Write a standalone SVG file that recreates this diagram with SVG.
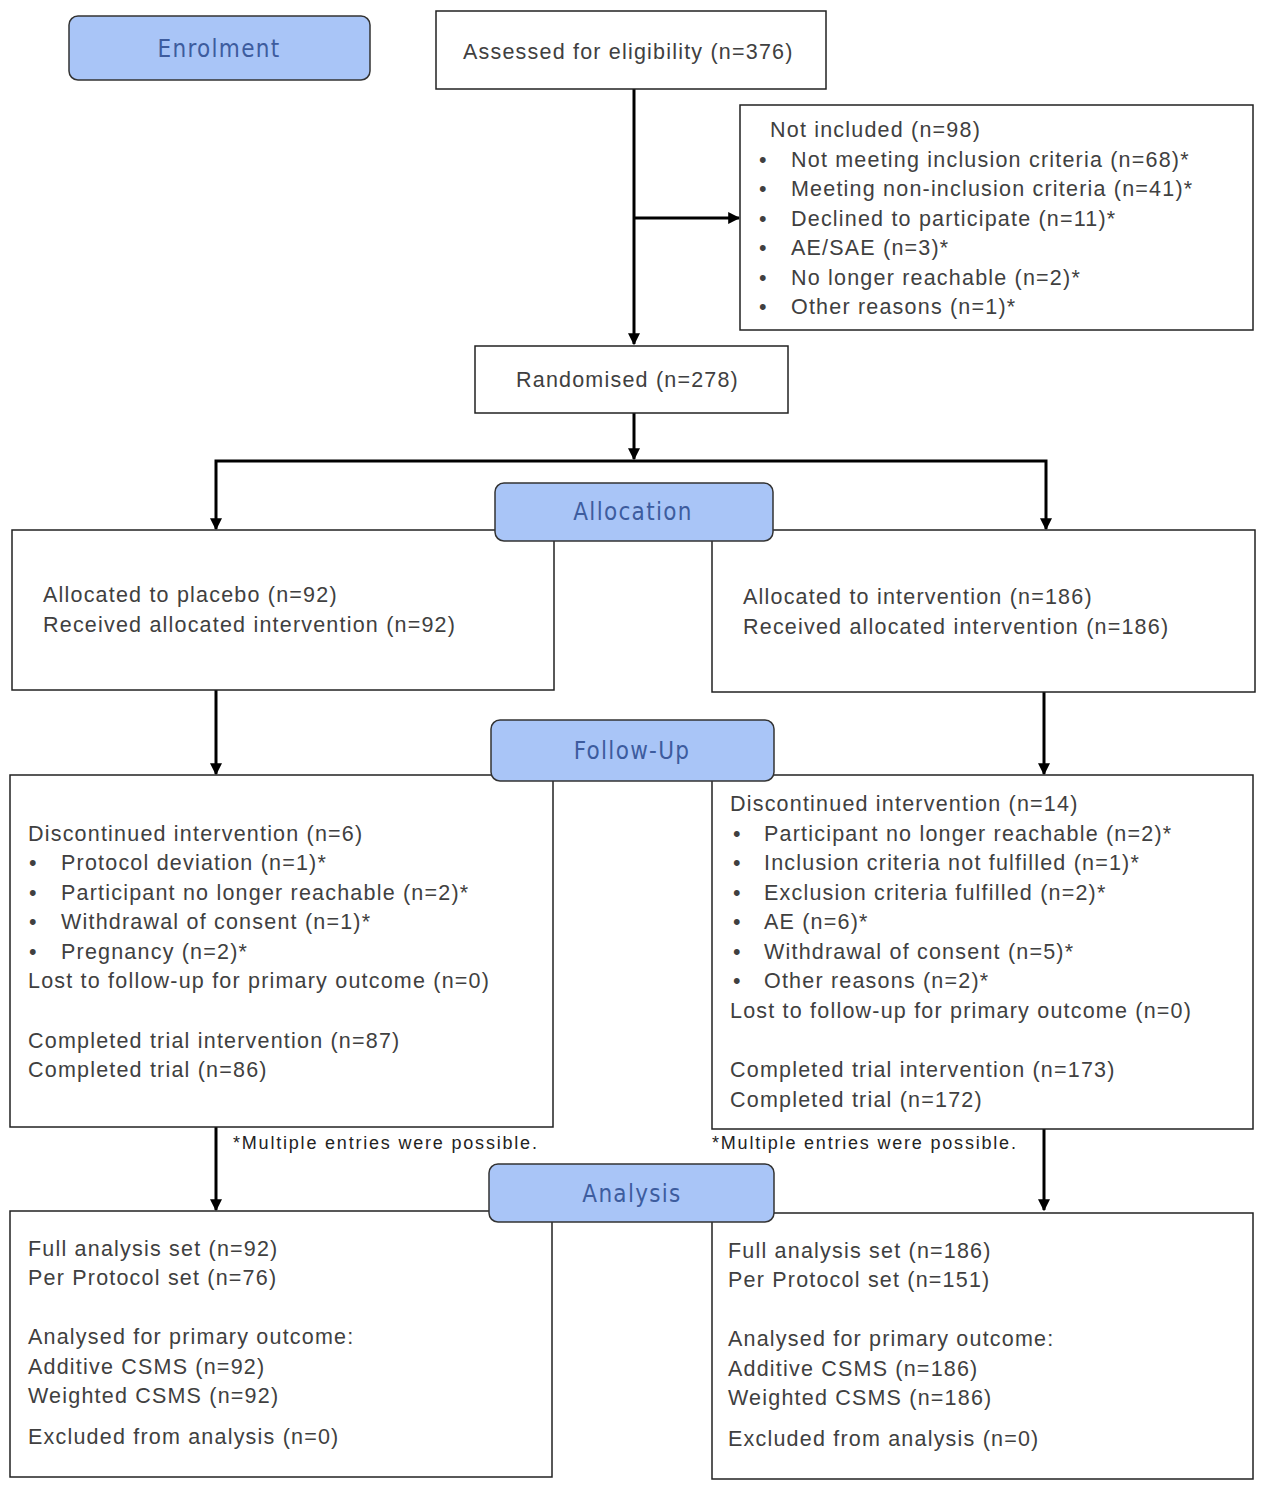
<svg xmlns="http://www.w3.org/2000/svg" width="1265" height="1489" viewBox="0 0 1265 1489">
<defs>
<marker id="ah" viewBox="0 0 10 10" refX="9" refY="5" markerWidth="4" markerHeight="4" orient="auto" markerUnits="strokeWidth">
<path d="M0,0 L10,5 L0,10 z" fill="#000"/>
</marker>
<style>
.box{fill:#fff;stroke:#222;stroke-width:1.5}
.stage{fill:#a9c5f7;stroke:#333;stroke-width:1.5}
.st{font-family:"DejaVu Sans Condensed","DejaVu Sans",sans-serif;font-size:24px;fill:#3d5c9e;text-anchor:middle;letter-spacing:1.3px}
.t{font-family:"Liberation Sans",Arial,sans-serif;font-size:21.5px;fill:#404040;letter-spacing:1.2px}
.fn{font-family:"Liberation Sans",Arial,sans-serif;font-size:18px;fill:#222;letter-spacing:1.8px}
.c{fill:none;stroke:#000;stroke-width:3}
</style>
</defs>
<rect width="1265" height="1489" fill="#fff"/>
<g id="connectors">
<line class="c" x1="634" y1="89" x2="634" y2="344" marker-end="url(#ah)"/>
<line class="c" x1="634" y1="218" x2="739" y2="218" marker-end="url(#ah)"/>
<line class="c" x1="634" y1="413" x2="634" y2="459" marker-end="url(#ah)"/>
<polyline class="c" points="634,461 216,461 216,529" marker-end="url(#ah)"/>
<polyline class="c" points="634,461 1046,461 1046,529" marker-end="url(#ah)"/>
<line class="c" x1="216" y1="690" x2="216" y2="774" marker-end="url(#ah)"/>
<line class="c" x1="1044" y1="692" x2="1044" y2="774" marker-end="url(#ah)"/>
<line class="c" x1="216" y1="1127" x2="216" y2="1210" marker-end="url(#ah)"/>
<line class="c" x1="1044" y1="1129" x2="1044" y2="1210" marker-end="url(#ah)"/>
</g>
<g id="enrolment"><rect class="stage" x="69" y="16" width="301" height="64" rx="9"/><text class="st" x="219" y="57">Enrolment</text></g>
<g id="assessed"><rect class="box" x="436" y="11" width="390" height="78"/><text class="t" x="463" y="59">Assessed for eligibility (n=376)</text></g>
<g id="not-included"><rect class="box" x="740" y="105" width="513" height="225"/>
<text class="t" x="770" y="137">Not included (n=98)</text>
<text class="t" x="759" y="167">•</text><text class="t" x="791" y="167">Not meeting inclusion criteria (n=68)*</text>
<text class="t" x="759" y="196">•</text><text class="t" x="791" y="196">Meeting non-inclusion criteria (n=41)*</text>
<text class="t" x="759" y="226">•</text><text class="t" x="791" y="226">Declined to participate (n=11)*</text>
<text class="t" x="759" y="255">•</text><text class="t" x="791" y="255">AE/SAE (n=3)*</text>
<text class="t" x="759" y="285">•</text><text class="t" x="791" y="285">No longer reachable (n=2)*</text>
<text class="t" x="759" y="314">•</text><text class="t" x="791" y="314">Other reasons (n=1)*</text>
</g>
<g id="randomised"><rect class="box" x="475" y="346" width="313" height="67"/><text class="t" x="516" y="387">Randomised (n=278)</text></g>
<g id="alloc-placebo"><rect class="box" x="12" y="530" width="542" height="160"/>
<text class="t" x="43" y="602">Allocated to placebo (n=92)</text>
<text class="t" x="43" y="632">Received allocated intervention (n=92)</text>
</g>
<g id="alloc-intervention"><rect class="box" x="712" y="530" width="543" height="162"/>
<text class="t" x="743" y="604">Allocated to intervention (n=186)</text>
<text class="t" x="743" y="634">Received allocated intervention (n=186)</text>
</g>
<g id="allocation"><rect class="stage" x="495" y="483" width="278" height="58" rx="9"/><text class="st" x="633" y="520">Allocation</text></g>
<g id="followup-placebo"><rect class="box" x="10" y="775" width="543" height="352"/>
<text class="t" x="28" y="841">Discontinued intervention (n=6)</text>
<text class="t" x="29" y="870">•</text><text class="t" x="61" y="870">Protocol deviation (n=1)*</text>
<text class="t" x="29" y="900">•</text><text class="t" x="61" y="900">Participant no longer reachable (n=2)*</text>
<text class="t" x="29" y="929">•</text><text class="t" x="61" y="929">Withdrawal of consent (n=1)*</text>
<text class="t" x="29" y="959">•</text><text class="t" x="61" y="959">Pregnancy (n=2)*</text>
<text class="t" x="28" y="988">Lost to follow-up for primary outcome (n=0)</text>
<text class="t" x="28" y="1048">Completed trial intervention (n=87)</text>
<text class="t" x="28" y="1077">Completed trial (n=86)</text>
</g>
<g id="followup-intervention"><rect class="box" x="712" y="775" width="541" height="354"/>
<text class="t" x="730" y="811">Discontinued intervention (n=14)</text>
<text class="t" x="733" y="841">•</text><text class="t" x="764" y="841">Participant no longer reachable (n=2)*</text>
<text class="t" x="733" y="870">•</text><text class="t" x="764" y="870">Inclusion criteria not fulfilled (n=1)*</text>
<text class="t" x="733" y="900">•</text><text class="t" x="764" y="900">Exclusion criteria fulfilled (n=2)*</text>
<text class="t" x="733" y="929">•</text><text class="t" x="764" y="929">AE (n=6)*</text>
<text class="t" x="733" y="959">•</text><text class="t" x="764" y="959">Withdrawal of consent (n=5)*</text>
<text class="t" x="733" y="988">•</text><text class="t" x="764" y="988">Other reasons (n=2)*</text>
<text class="t" x="730" y="1018">Lost to follow-up for primary outcome (n=0)</text>
<text class="t" x="730" y="1077">Completed trial intervention (n=173)</text>
<text class="t" x="730" y="1107">Completed trial (n=172)</text>
</g>
<g id="followup"><rect class="stage" x="491" y="720" width="283" height="61" rx="9"/><text class="st" x="632" y="759">Follow-Up</text></g>
<g id="footnote-left"><text class="fn" x="233" y="1149">*Multiple entries were possible.</text></g>
<g id="footnote-right"><text class="fn" x="712" y="1149">*Multiple entries were possible.</text></g>
<g id="analysis-placebo"><rect class="box" x="10" y="1211" width="542" height="266"/>
<text class="t" x="28" y="1256">Full analysis set (n=92)</text>
<text class="t" x="28" y="1285">Per Protocol set (n=76)</text>
<text class="t" x="28" y="1344">Analysed for primary outcome:</text>
<text class="t" x="28" y="1374">Additive CSMS (n=92)</text>
<text class="t" x="28" y="1403">Weighted CSMS (n=92)</text>
<text class="t" x="28" y="1444">Excluded from analysis (n=0)</text>
</g>
<g id="analysis-intervention"><rect class="box" x="712" y="1213" width="541" height="266"/>
<text class="t" x="728" y="1258">Full analysis set (n=186)</text>
<text class="t" x="728" y="1287">Per Protocol set (n=151)</text>
<text class="t" x="728" y="1346">Analysed for primary outcome:</text>
<text class="t" x="728" y="1376">Additive CSMS (n=186)</text>
<text class="t" x="728" y="1405">Weighted CSMS (n=186)</text>
<text class="t" x="728" y="1446">Excluded from analysis (n=0)</text>
</g>
<g id="analysis"><rect class="stage" x="489" y="1164" width="285" height="58" rx="9"/><text class="st" x="632" y="1202">Analysis</text></g>
</svg>
